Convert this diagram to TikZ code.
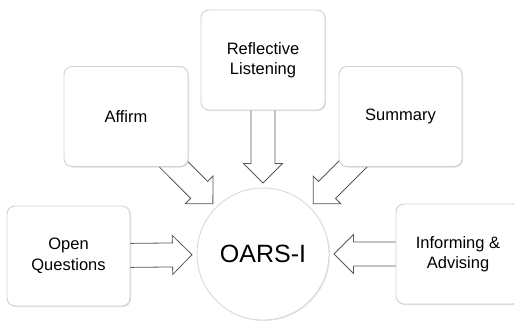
\documentclass[tikz,border=0pt]{standalone}
\usepackage{fontspec}
\setmainfont{Liberation Sans}
\usetikzlibrary{calc,shadows,positioning}
\pgfdeclarelayer{back}
\pgfsetlayers{back,main}

\tikzset{
  skill/.style={draw=black!18, line width=0.9pt, fill=white, rounded corners=8pt,
    minimum width=124pt, minimum height=100pt, align=center, outer sep=0pt,
    font=\fontsize{16.5}{20.5}\selectfont,
    drop shadow={shadow xshift=1pt, shadow yshift=-1pt, opacity=0.25}},
  hub/.style={circle, draw=black!15, line width=0.9pt, fill=white,
    minimum size=132pt, inner sep=0pt, outer sep=0pt,
    font=\fontsize{25}{30}\selectfont,
    drop shadow={shadow xshift=1pt, shadow yshift=-1pt, opacity=0.2}},
  fatarrow/.style={draw=black!65, line width=0.8pt, fill=white, line join=miter}
}

% block arrow from #1 (tail) to #2 (tip)
\newcommand{\oarsarrow}[2]{%
  \draw[fatarrow] let \p1=($(#1)-(#2)$), \n1={atan2(\y1,\x1)}, \n2={veclen(\x1,\y1)} in
    (#2) -- ++(\n1+45:27.6) -- ++(\n1-90:7.5) -- ++(\n1:\n2-19.5) -- ++(\n1-90:24)
    -- ++(\n1+180:\n2-19.5) -- ++(\n1-90:7.5) -- cycle;}

\begin{document}
\begin{tikzpicture}[x=1pt,y=1pt]
    \useasboundingbox (0,0) rectangle (514,-322);
    % Centre
    \node[hub] (oars) at (263,-254) {OARS-I};
    % The five skills
    \node[skill] (reflect) at (263,-60) {Reflective\\Listening};
    \node[skill] (affirm) at (126,-116.5) {Affirm};
    \node[skill, minimum width=123pt] (summary) at (400.5,-116.5) {Summary};
    \node[skill, minimum width=123pt] (openq) at (68.5,-256) {Open\\Questions};
    \node[skill] (inform) at (458,-254) {Informing \&\\Advising};
    % Arrow tips just off the circle
    \foreach \s in {reflect,affirm,summary,openq,inform}
        \coordinate (tip-\s) at ($(oars.center)!71pt!(\s.center)$);
    % Block arrows behind the boxes
    \begin{pgfonlayer}{back}
        \foreach \s in {reflect,affirm,summary,openq,inform}
            \oarsarrow{\s.center}{tip-\s};
    \end{pgfonlayer}
\end{tikzpicture}
\end{document}
